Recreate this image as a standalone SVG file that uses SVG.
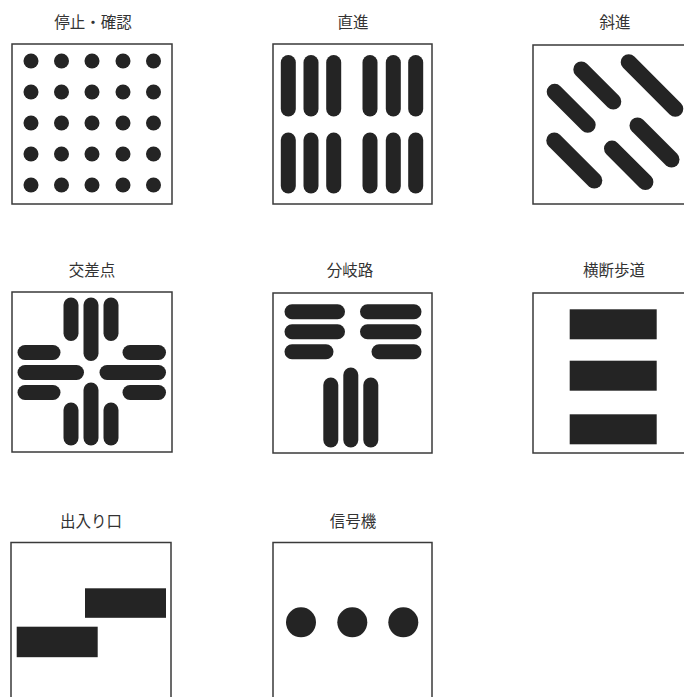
<svg xmlns="http://www.w3.org/2000/svg" width="684" height="697" viewBox="0 0 684 697">
<style>
.bg{fill:#ffffff}
.frame{fill:none;stroke:#3a3a3a;stroke-width:1.5}
.title{font-family:"Noto Sans CJK JP","Noto Sans CJK SC",sans-serif;font-size:15.5px;fill:#333333;text-anchor:middle}
.pill{stroke:#242424;stroke-width:15;stroke-linecap:round;fill:none}
.dpill{stroke:#242424;stroke-width:16;stroke-linecap:round;fill:none}
.solid{fill:#242424}
</style>
<rect class="bg" x="0" y="0" width="684" height="697"/>

<g id="stop-confirm">
<text class="title" x="93" y="28">停止・確認</text>
<rect class="frame" x="12" y="44" width="160" height="160"/>
<g class="solid">
<circle cx="31" cy="61" r="7.5"/><circle cx="61.5" cy="61" r="7.5"/><circle cx="92" cy="61" r="7.5"/><circle cx="123" cy="61" r="7.5"/><circle cx="153.5" cy="61" r="7.5"/>
<circle cx="31" cy="92" r="7.5"/><circle cx="61.5" cy="92" r="7.5"/><circle cx="92" cy="92" r="7.5"/><circle cx="123" cy="92" r="7.5"/><circle cx="153.5" cy="92" r="7.5"/>
<circle cx="31" cy="123" r="7.5"/><circle cx="61.5" cy="123" r="7.5"/><circle cx="92" cy="123" r="7.5"/><circle cx="123" cy="123" r="7.5"/><circle cx="153.5" cy="123" r="7.5"/>
<circle cx="31" cy="154" r="7.5"/><circle cx="61.5" cy="154" r="7.5"/><circle cx="92" cy="154" r="7.5"/><circle cx="123" cy="154" r="7.5"/><circle cx="153.5" cy="154" r="7.5"/>
<circle cx="31" cy="185" r="7.5"/><circle cx="61.5" cy="185" r="7.5"/><circle cx="92" cy="185" r="7.5"/><circle cx="123" cy="185" r="7.5"/><circle cx="153.5" cy="185" r="7.5"/>
</g>
</g>

<g id="straight">
<text class="title" x="353" y="28">直進</text>
<rect class="frame" x="273" y="44" width="159" height="160"/>
<g class="pill">
<line x1="288.3" y1="62.5" x2="288.3" y2="109"/><line x1="311" y1="62.5" x2="311" y2="109"/><line x1="333.7" y1="62.5" x2="333.7" y2="109"/>
<line x1="370" y1="62.5" x2="370" y2="109"/><line x1="393.3" y1="62.5" x2="393.3" y2="109"/><line x1="415.7" y1="62.5" x2="415.7" y2="109"/>
<line x1="288.3" y1="140" x2="288.3" y2="186"/><line x1="311" y1="140" x2="311" y2="186"/><line x1="333.7" y1="140" x2="333.7" y2="186"/>
<line x1="370" y1="140" x2="370" y2="186"/><line x1="393.3" y1="140" x2="393.3" y2="186"/><line x1="415.7" y1="140" x2="415.7" y2="186"/>
</g>
</g>

<g id="diagonal">
<text class="title" x="615" y="28">斜進</text>
<rect class="frame" x="533" y="45" width="160" height="159"/>
<g class="dpill">
<line x1="581.3" y1="69.5" x2="613.3" y2="101.5"/>
<line x1="628.7" y1="62.2" x2="675.3" y2="108.8"/>
<line x1="554.7" y1="91.8" x2="587.7" y2="124.8"/>
<line x1="554.3" y1="140.5" x2="594.3" y2="180.5"/>
<line x1="612" y1="148.6" x2="645.4" y2="182"/>
<line x1="637.5" y1="125.5" x2="671.5" y2="159.5"/>
</g>
</g>

<g id="intersection">
<text class="title" x="92" y="276">交差点</text>
<rect class="frame" x="12" y="292" width="160" height="160"/>
<g class="pill">
<line x1="71" y1="305" x2="71" y2="333.5"/><line x1="91" y1="305" x2="91" y2="353.5"/><line x1="111" y1="305" x2="111" y2="333.5"/>
<line x1="71" y1="410" x2="71" y2="438"/><line x1="91" y1="390" x2="91" y2="438"/><line x1="111" y1="410" x2="111" y2="438"/>
<line x1="25" y1="352.5" x2="53" y2="352.5"/><line x1="25" y1="372.5" x2="76.5" y2="372.5"/><line x1="25" y1="392.5" x2="53" y2="392.5"/>
<line x1="130" y1="352.5" x2="158.5" y2="352.5"/><line x1="107" y1="372.5" x2="158.5" y2="372.5"/><line x1="130" y1="392.5" x2="158.5" y2="392.5"/>
</g>
</g>

<g id="junction">
<text class="title" x="350" y="276">分岐路</text>
<rect class="frame" x="273" y="293" width="159" height="160"/>
<g class="pill">
<line x1="292" y1="311.8" x2="337.5" y2="311.8"/><line x1="292" y1="331.8" x2="337.5" y2="331.8"/><line x1="292" y1="351.8" x2="326" y2="351.8"/>
<line x1="367.5" y1="311.8" x2="414" y2="311.8"/><line x1="367.5" y1="331.8" x2="414" y2="331.8"/><line x1="379" y1="351.8" x2="414" y2="351.8"/>
<line x1="330.8" y1="385" x2="330.8" y2="440"/><line x1="350.8" y1="375" x2="350.8" y2="440"/><line x1="370.8" y1="385" x2="370.8" y2="440"/>
</g>
</g>

<g id="crosswalk">
<text class="title" x="614" y="276">横断歩道</text>
<rect class="frame" x="533" y="293" width="160" height="160"/>
<g class="solid">
<rect x="569.7" y="309.3" width="87" height="30"/>
<rect x="569.7" y="360.7" width="87" height="30"/>
<rect x="569.7" y="414.3" width="87" height="30"/>
</g>
</g>

<g id="entrance">
<text class="title" x="91" y="527">出入り口</text>
<rect class="frame" x="11" y="542.5" width="160" height="170"/>
<g class="solid">
<rect x="85" y="588.3" width="81" height="29.5"/>
<rect x="16.7" y="626.7" width="81" height="30.5"/>
</g>
</g>

<g id="signal">
<text class="title" x="353" y="527">信号機</text>
<rect class="frame" x="273" y="542.5" width="159" height="170"/>
<g class="solid">
<circle cx="301" cy="622.3" r="15"/>
<circle cx="352.3" cy="622.3" r="15"/>
<circle cx="403.3" cy="622.3" r="15"/>
</g>
</g>

<g id="connectors"></g>
</svg>
